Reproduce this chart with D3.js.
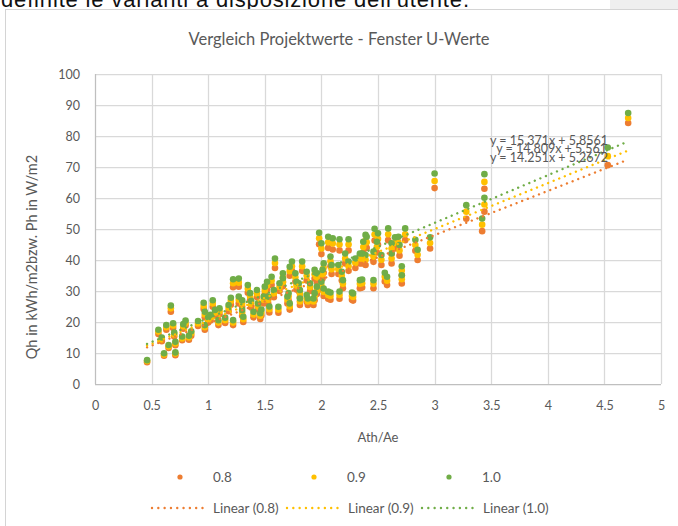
<!DOCTYPE html>
<html lang="de">
	<head>
		<meta charset="utf-8">
		<title>Vergleich Projektwerte - Fenster U-Werte</title>
		<script type="text/javascript" src="https://d3js.org/d3.v7.min.js"></script>
		<style type="text/css">
			body { margin: 0; background: #fff; }
			text { font-family: Lato, "Open Sans", sans-serif; fill: #595959; }
		</style>
	</head>
	<body>
		<div id="chart"></div>

		<script type="text/javascript">

	// Ath/Ae per project
	var athAe = [0.46,0.56,0.59,0.61,0.63,0.65,0.67,0.69,0.70,0.71,0.71,0.77,0.78,0.80,0.83,0.85,0.91,0.96,0.97,0.97,
		1.00,1.02,1.04,1.06,1.09,1.10,1.15,1.18,1.20,1.22,1.22,1.27,1.27,1.30,1.30,1.31,1.35,1.37,1.38,1.40,
		1.43,1.44,1.46,1.47,1.49,1.50,1.52,1.53,1.54,1.56,1.58,1.59,1.62,1.63,1.66,1.66,1.70,1.71,1.72,1.72,
		1.74,1.77,1.78,1.80,1.81,1.81,1.83,1.87,1.87,1.88,1.90,1.93,1.94,1.94,1.96,1.96,1.98,2.00,2.00,2.01,
		2.02,2.02,2.06,2.06,2.08,2.08,2.09,2.10,2.15,2.16,2.16,2.18,2.19,2.21,2.24,2.24,2.27,2.28,2.30,2.34,
		2.34,2.36,2.36,2.37,2.39,2.39,2.40,2.46,2.46,2.47,2.49,2.50,2.53,2.56,2.58,2.59,2.62,2.62,2.65,2.68,
		2.69,2.71,2.71,2.74,2.83,2.85,2.96,3.00,3.28,3.44,3.44,3.42,4.53,4.71]

	// U-Wert 0.8
	var u08 = [7.0,16.1,13.8,9.1,17.5,11.6,23.3,18.1,15.3,12.5,9.3,14.1,17.8,18.9,14.3,15.6,18.7,24.2,17.5,21.5,
		19.8,20.5,24.9,22.0,19.0,22.5,19.7,23.5,25.6,31.2,19.0,31.4,26.0,24.9,22.0,20.0,29.4,27.0,24.7,21.5,
		28.0,24.0,21.0,22.1,26.0,29.0,30.5,26.0,23.1,31.9,28.0,37.4,23.0,30.0,31.5,33.0,26.0,27.0,34.9,24.0,
		36.5,33.0,30.5,30.0,28.0,25.5,36.5,33.4,26.5,25.5,30.0,25.5,34.0,27.0,29.0,33.0,45.1,41.9,30.5,34.0,
		35.9,28.4,43.9,27.5,38.0,27.2,35.5,43.4,35.5,43.1,27.5,33.4,30.9,38.9,43.1,36.5,27.2,26.9,37.4,38.9,
		30.9,38.9,31.1,42.4,44.4,38.4,43.9,39.4,30.9,46.3,42.4,44.9,38.4,33.1,31.9,46.4,41.9,38.9,43.7,43.9,
		41.4,35.1,32.4,46.4,43.0,40.0,43.7,63.2,53.3,63.0,55.6,49.3,70.6,84.2]

	// U-Wert 0.9
	var u09 = [7.4,16.9,14.4,9.5,18.3,12.1,24.4,18.9,16.0,13.1,9.8,14.7,18.6,19.7,15.0,16.4,19.5,25.2,18.3,22.4,
		20.7,21.5,26.0,23.0,19.8,23.5,20.6,24.6,26.8,32.5,19.8,32.7,27.2,26.0,23.0,20.9,30.7,28.2,25.8,22.4,
		29.2,25.0,22.0,23.1,27.2,30.2,31.8,27.2,24.1,33.3,29.2,39.0,24.0,31.3,32.8,34.4,27.2,28.2,36.4,25.0,
		38.0,34.4,31.8,31.3,29.2,26.6,38.0,34.9,27.6,26.6,31.3,26.6,35.4,28.2,30.2,34.4,47.0,43.7,31.8,35.4,
		37.5,29.7,45.7,28.7,39.6,28.4,37.0,45.3,37.0,45.0,28.7,34.9,32.3,40.5,45.0,38.0,28.4,28.1,39.0,40.5,
		32.3,40.5,32.5,44.2,46.3,40.1,45.7,41.1,32.3,48.2,44.2,46.8,40.1,34.6,33.3,48.3,43.7,40.5,45.5,45.7,
		43.1,36.6,33.8,48.3,44.8,41.7,45.5,65.5,55.6,65.2,57.9,51.4,73.5,85.8]

	// U-Wert 1.0
	var u10 = [7.7,17.5,15.0,9.9,19.0,12.6,25.3,19.6,16.6,13.6,10.2,15.3,19.3,20.5,15.6,17.0,20.3,26.2,19.0,23.3,
		21.5,22.3,27.0,23.9,20.6,24.4,21.4,25.5,27.8,33.8,20.6,34.0,28.2,27.0,23.9,21.7,31.9,29.3,26.8,23.3,
		30.3,26.0,22.8,24.0,28.2,31.4,33.0,28.2,25.0,34.6,30.3,40.5,24.9,32.5,34.1,35.7,28.2,29.3,37.8,26.0,
		39.5,35.7,33.0,32.5,30.3,27.6,39.5,36.2,28.7,27.6,32.5,27.6,36.8,29.3,31.4,35.7,48.8,45.4,33.0,36.8,
		38.9,30.8,47.5,29.8,41.1,29.5,38.4,47.0,38.4,46.7,29.8,36.2,33.5,42.1,46.7,39.5,29.5,29.2,40.5,42.1,
		33.5,42.1,33.7,45.9,48.1,41.6,47.5,42.7,33.5,50.1,45.9,48.6,41.6,35.9,34.6,50.2,45.4,42.1,47.3,47.5,
		44.8,38.0,35.1,50.2,46.5,43.3,47.3,67.9,57.7,67.7,60.1,53.4,76.3,87.4]

	var seriesNames = ["0.8", "0.9", "1.0"]
	var seriesColors = ["#ED7D31", "#FFC000", "#70AD47"]
	// linear trendlines as shown in the chart
	var trendSlopes = [14.251, 14.809, 15.371]
	var trendIntercepts = [5.2672, 5.561, 5.8561]
	var trendLabels = ["y = 14.251x + 5.2672", "y = 14.809x + 5.561", "y = 15.371x + 5.8561"]

	var xTicks = [0,0.5,1,1.5,2,2.5,3,3.5,4,4.5,5]
	var yTicks = [0,10,20,30,40,50,60,70,80,90,100]

	var w = 678
	var h = 526

	var svg = d3.select("#chart")
		.append("svg")
		.attr("width", w)
		.attr("height", h)

	// piece of the page above the chart
	svg.append("rect")
		.attr("x", 610).attr("y", 0)
		.attr("width", 68).attr("height", 9)
		.style("fill", "#efefef")
	svg.append("text")
		.attr("x", 1).attr("y", 7)
		.attr("textLength", 468)
		.style("font-family", "'Liberation Sans', Arial, sans-serif")
		.style("font-size", "22px")
		.style("fill", "#111")
		.text("definite le varianti a disposizione dell'utente.")

	// chart frame
	svg.append("rect")
		.attr("x", 5.5).attr("y", 9.5)
		.attr("width", 700).attr("height", 540)
		.style("fill", "#fff")
		.style("stroke", "#d4d4d4")

	var xScale = d3.scaleLinear()
		.domain([0, 5])
		.range([95, 661])

	var yScale = d3.scaleLinear()
		.domain([0, 100])
		.range([384, 74])

	// gridlines
	svg.append("g")
		.selectAll("line")
		.data(yTicks.slice(1))
		.enter()
		.append("line")
		.attr("x1", xScale(0)).attr("x2", xScale(5))
		.attr("y1", function(d){ return Math.round(yScale(d)) + 0.5 })
		.attr("y2", function(d){ return Math.round(yScale(d)) + 0.5 })
		.style("stroke", "#d9d9d9")
		.style("stroke-width", 1.25)

	svg.append("g")
		.selectAll("line")
		.data(xTicks)
		.enter()
		.append("line")
		.attr("x1", function(d){ return Math.round(xScale(d)) + 0.5 })
		.attr("x2", function(d){ return Math.round(xScale(d)) + 0.5 })
		.attr("y1", yScale(100)).attr("y2", yScale(0))
		.style("stroke", function(d){ return d == 0 ? "#bfbfbf" : "#d9d9d9" })
		.style("stroke-width", 1.25)

	// axes (labels only, lines drawn above)
	var xAxis = d3.axisBottom(xScale)
		.tickValues(xTicks)
		.tickSize(0)
		.tickPadding(17)
		.tickFormat(function(d){ return String(d) })

	var yAxis = d3.axisLeft(yScale)
		.tickValues(yTicks)
		.tickSize(0)
		.tickPadding(15)

	svg.append("g")
		.attr("class", "axis")
		.attr("transform", "translate(0," + yScale(0) + ")")
		.call(xAxis)

	svg.append("g")
		.attr("class", "axis")
		.attr("transform", "translate(" + xScale(0) + ",0)")
		.call(yAxis)

	svg.selectAll(".axis .domain").remove()
	svg.selectAll(".axis text")
		.style("font-family", "Lato, sans-serif")
		.style("font-size", "12.5px")
		.style("fill", "#595959")

	svg.append("line")
		.attr("x1", xScale(0)).attr("x2", xScale(5))
		.attr("y1", yScale(0) + 0.5).attr("y2", yScale(0) + 0.5)
		.style("stroke", "#bfbfbf")
		.style("stroke-width", 1.25)

	// points, one series after the other
	var allSeries = [u08, u09, u10]
	allSeries.forEach(function(vals, s){
		svg.append("g")
			.selectAll("circle")
			.data(vals)
			.enter()
			.append("circle")
			.attr("cx", function(d,i){ return xScale(athAe[i]) })
			.attr("cy", function(d){ return yScale(d) })
			.attr("r", 3.3)
			.style("fill", seriesColors[s])
	})

	// trendlines
	var xMin = d3.min(athAe)
	var xMax = d3.max(athAe)
	seriesNames.forEach(function(n, s){
		svg.append("line")
			.attr("x1", xScale(xMin))
			.attr("y1", yScale(trendSlopes[s] * xMin + trendIntercepts[s]))
			.attr("x2", xScale(xMax))
			.attr("y2", yScale(trendSlopes[s] * xMax + trendIntercepts[s]))
			.style("stroke", seriesColors[s])
			.style("stroke-width", 2.4)
			.style("stroke-linecap", "round")
			.style("stroke-dasharray", "0.01,6")
	})

	// trendline equations (they overlap in the original too)
	var eqPos = [[608, 162], [607, 153], [608, 145]]
	trendLabels.forEach(function(t, s){
		svg.append("text")
			.attr("x", eqPos[s][0])
			.attr("y", eqPos[s][1])
			.attr("text-anchor", "end")
			.style("font-size", "12.5px")
			.style("fill", "#595959")
			.text(t)
	})

	// titles
	svg.append("text")
		.attr("x", 339).attr("y", 45)
		.attr("text-anchor", "middle")
		.style("font-size", "16.5px")
		.text("Vergleich Projektwerte - Fenster U-Werte")

	svg.append("text")
		.attr("x", 378).attr("y", 442)
		.attr("text-anchor", "middle")
		.style("font-size", "13px")
		.text("Ath/Ae")

	svg.append("text")
		.attr("transform", "translate(37,257) rotate(-90)")
		.attr("text-anchor", "middle")
		.style("font-size", "14.5px")
		.text("Qh in kWh/m2bzw. Ph in W/m2")

	// legend
	var legMarkX = [180, 314, 449]
	var legLineX = [152, 287, 422]
	seriesNames.forEach(function(n, s){
		svg.append("circle")
			.attr("cx", legMarkX[s]).attr("cy", 477)
			.attr("r", 2.6)
			.style("fill", seriesColors[s])
		svg.append("text")
			.attr("x", legMarkX[s] + 33).attr("y", 481.5)
			.style("font-size", "13.5px")
			.text(n)
		svg.append("line")
			.attr("x1", legLineX[s]).attr("x2", legLineX[s] + 51)
			.attr("y1", 508).attr("y2", 508)
			.style("stroke", seriesColors[s])
			.style("stroke-width", 2.4)
			.style("stroke-linecap", "round")
			.style("stroke-dasharray", "0.01,6.3")
		svg.append("text")
			.attr("x", legLineX[s] + 61).attr("y", 512.5)
			.style("font-size", "13.5px")
			.text("Linear (" + n + ")")
	})
		</script>
	</body>
</html>
